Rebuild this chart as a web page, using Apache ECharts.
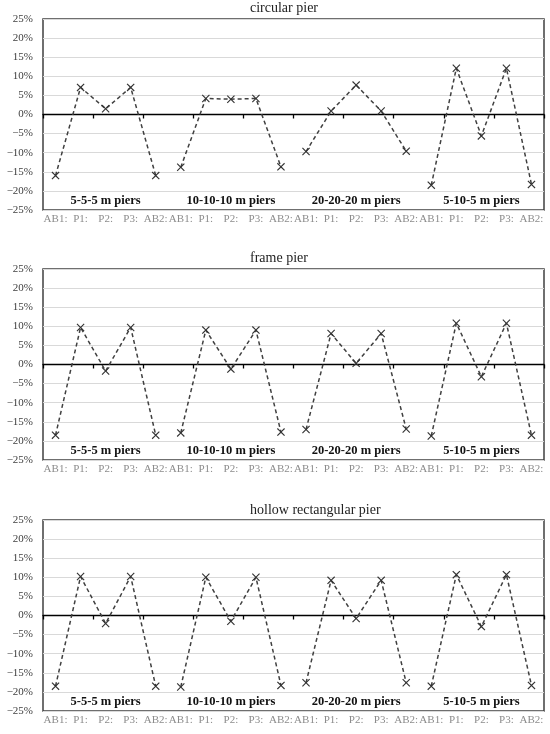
<!DOCTYPE html>
<html>
<head>
<meta charset="utf-8">
<script src="https://cdn.jsdelivr.net/npm/echarts@6/dist/echarts.min.js"></script>
<style>
    html, body {margin: 0; padding: 0; background: #fff;}
    #main {width: 550px; height: 734px;}
</style>
</head>
<body>
<div id="main"></div>
<script>
// categories repeat for each of the four span groups
var groupCats = ['AB1:', 'P1:', 'P2:', 'P3:', 'AB2:'];
var groupNames = ['5-5-5 m piers', '10-10-10 m piers', '20-20-20 m piers', '5-10-5 m piers'];
var panelTitles = ['circular pier', 'frame pier', 'hollow rectangular pier'];

// values in % (AB1, P1, P2, P3, AB2 for each group)
var circularPier = [-16.0, 7.1, 1.5, 7.1, -16.0,
    -13.8, 4.2, 4.0, 4.2, -13.7,
    -9.7, 0.9, 7.7, 0.9, -9.6,
    -18.5, 12.1, -5.6, 12.1, -18.3];
var framePier = [-18.5, 9.7, -1.7, 9.7, -18.5,
    -17.9, 9.0, -1.2, 9.0, -17.7,
    -17.0, 8.1, 0.3, 8.1, -16.9,
    -18.7, 10.8, -3.2, 10.8, -18.5];
var hollowPier = [-18.5, 10.2, -2.1, 10.2, -18.5,
    -18.7, 10.0, -1.5, 10.0, -18.3,
    -17.6, 9.2, -0.8, 9.2, -17.6,
    -18.5, 10.7, -2.9, 10.7, -18.3];

var yMin = -25, yMax = 25, yStep = 5;

var categories = [];
groupNames.forEach(function () {
    categories = categories.concat(groupCats);
});

var panelData = [circularPier, framePier, hollowPier];
var gridTops = [19, 269, 520];
var gridHeight = 191;
var titleTops = [1, 251, 503];

var serif = 'Liberation Serif';
var xMark = 'path://M0,1L1,0L5,4L9,0L10,1L6,5L10,9L9,10L5,6L1,10L0,9L4,5Z';

var option = {
    animation: false,
    title: [],
    grid: [],
    xAxis: [],
    yAxis: [],
    series: []
};

panelData.forEach(function (vals, p) {
    option.title.push({
        text: panelTitles[p],
        left: 250,
        top: titleTops[p],
        padding: 0,
        textStyle: {fontFamily: serif, fontSize: 14, fontWeight: 'normal', color: '#222'}
    });
    option.grid.push({
        left: 43, right: 6, top: gridTops[p], height: gridHeight,
        show: true, borderColor: '#404040', borderWidth: 1.5, backgroundColor: 'transparent'
    });
    // axis line on zero with ticks between categories
    option.xAxis.push({
        type: 'category', gridIndex: p, data: categories,
        axisLine: {onZero: true, lineStyle: {color: '#000', width: 1.3}},
        axisTick: {show: true, length: 4, lineStyle: {color: '#000', width: 1.3}},
        axisLabel: {show: false}
    });
    // labels at the bottom of the box
    option.xAxis.push({
        type: 'category', gridIndex: p, data: categories, position: 'bottom',
        axisLine: {show: false, onZero: false},
        axisTick: {show: false},
        axisLabel: {margin: 4, interval: 0, fontFamily: serif, fontSize: 11, color: '#8c8c8c'}
    });
    option.yAxis.push({
        type: 'value', gridIndex: p, min: yMin, max: yMax, interval: yStep,
        axisLine: {show: false},
        axisTick: {show: false},
        splitLine: {lineStyle: {color: '#d9d9d9', width: 1}},
        axisLabel: {
            margin: 10, fontFamily: serif, fontSize: 11, color: '#404040',
            formatter: function (v) {
                return (v < 0 ? '\u2212' + Math.abs(v) : v) + '%';
            }
        }
    });

    groupNames.forEach(function (name, g) {
        var data = [];
        for (var i = 0; i < categories.length; i++) {
            data.push(Math.floor(i / groupCats.length) === g ? vals[i] : '-');
        }
        option.series.push({
            type: 'line',
            name: name,
            xAxisIndex: p * 2,
            yAxisIndex: p,
            data: data,
            symbol: xMark,
            symbolSize: 8,
            showAllSymbol: true,
            itemStyle: {color: '#333'},
            lineStyle: {color: '#404040', width: 1.5, type: [4, 3]},
            markPoint: {
                silent: true,
                symbol: 'circle',
                symbolSize: 1,
                itemStyle: {color: 'rgba(0,0,0,0)'},
                label: {
                    show: true, position: 'inside', formatter: name,
                    fontFamily: serif, fontSize: 12.5, fontWeight: 'bold', color: '#111'
                },
                data: [{coord: [g * groupCats.length + 2, -22.6]}]
            }
        });
    });
});

var myChart = echarts.init(document.getElementById('main'));
myChart.setOption(option);
</script>
</body>
</html>
